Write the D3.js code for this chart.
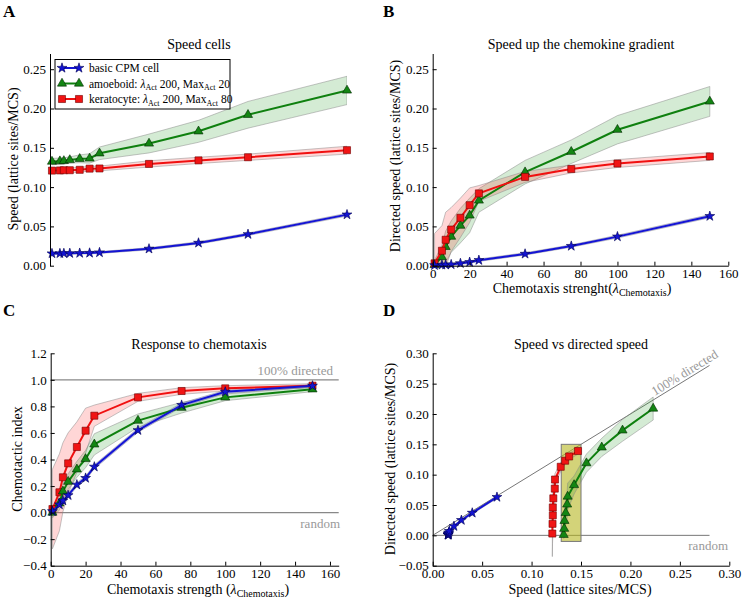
<!DOCTYPE html>
<html><head><meta charset="utf-8">
<script src="https://cdn.jsdelivr.net/npm/d3@7"></script>
<style>body{margin:0;background:#fff}svg{display:block}svg text{font-family:"Liberation Serif","DejaVu Serif",serif !important}</style>
</head><body>
<svg id="c" width="743" height="599"></svg>
<script>
// ---------- data ----------
const lambda = [1,5,7,10,15,20,25,50,75,100,150];

const speedBasic      = [0.0155,0.0156,0.0157,0.0158,0.0160,0.0162,0.0168,0.0215,0.029,0.040,0.065];
const speedBasicErr   = [0.0012,0.0012,0.0012,0.0012,0.0012,0.0012,0.0012,0.0014,0.0015,0.0016,0.0018];
const speedAmoeboid   = [0.1325,0.1330,0.1333,0.1345,0.1360,0.1365,0.1430,0.1555,0.1710,0.1920,0.2230];
const speedAmoeboidErr= [0.004,0.004,0.004,0.004,0.005,0.006,0.008,0.012,0.014,0.017,0.018];
const speedKerato     = [0.1210,0.1212,0.1215,0.1215,0.1220,0.1235,0.1237,0.1295,0.1340,0.1380,0.1470];
const speedKeratoErr  = [0.003,0.003,0.003,0.003,0.003,0.003,0.003,0.004,0.004,0.004,0.005];

const dirBasic        = [0.0005,0.0010,0.0012,0.0015,0.0030,0.0045,0.0070,0.0150,0.0250,0.0370,0.0630];
const dirBasicErr     = [0.0015,0.0015,0.0015,0.0015,0.0015,0.0015,0.0015,0.0015,0.0015,0.0018,0.002];
const dirAmoeboid     = [0.001,0.011,0.024,0.037,0.051,0.064,0.083,0.119,0.145,0.173,0.209];
const dirAmoeboidErr  = [0.006,0.015,0.020,0.020,0.022,0.022,0.015,0.015,0.015,0.018,0.019];
const dirKerato       = [0.003,0.019,0.033,0.046,0.061,0.077,0.092,0.113,0.123,0.130,0.139];
const dirKeratoErr    = [0.038,0.032,0.035,0.028,0.025,0.022,0.010,0.007,0.005,0.005,0.005];

const ciBasic         = [0.010,0.060,0.090,0.130,0.210,0.260,0.345,0.620,0.810,0.910,0.955];
const ciBasicErr      = [0.015,0.015,0.015,0.015,0.015,0.015,0.015,0.015,0.015,0.012,0.010];
const ciAmoeboid      = [0.000,0.070,0.160,0.233,0.326,0.404,0.514,0.693,0.790,0.868,0.929];
const ciAmoeboidErr   = [0.040,0.050,0.060,0.060,0.060,0.065,0.080,0.050,0.040,0.025,0.018];
const ciKerato        = [0.027,0.153,0.266,0.371,0.494,0.617,0.730,0.868,0.916,0.936,0.956];
const ciKeratoErr     = [0.300,0.290,0.260,0.230,0.190,0.170,0.080,0.030,0.025,0.020,0.015];

const ticksA_y = [0,0.05,0.10,0.15,0.20,0.25];
const ticksB_x = [0,20,40,60,80,100,120,140,160];
const ticksC_y = [-0.4,-0.2,0,0.2,0.4,0.6,0.8,1.0,1.2];
const ticksD   = [0,0.05,0.10,0.15,0.20,0.25,0.30];
const ticksD_y = [-0.05,0,0.05,0.10,0.15,0.20,0.25,0.30];
const highlightBox = {x0:0.13, x1:0.15, y0:-0.01, y1:0.15};

// ---------- styles ----------
const S = {
  basic: {line:'#1414d2', fill:'#1414d2', edge:'#000050', sym:d3.symbolStar, size:30, band:'#3030ff', bandOp:0.3},
  amoe:  {line:'#0f800f', fill:'#138513', edge:'#002800', sym:d3.symbolTriangle, size:36, band:'#2a9a2a', bandOp:0.2},
  kera:  {line:'#f01010', fill:'#f01414', edge:'#700000', sym:d3.symbolSquare, size:50, band:'#ff3030', bandOp:0.2}
};

const svg = d3.select('#c');
const FONT = 13;
const FF = '"Liberation Serif","DejaVu Serif",serif';

function rich(t, parts){
  parts.forEach(p=>{
    const ts = t.append('tspan').text(p.t);
    if(p.i) ts.attr('font-style','italic');
    if(p.sub){ ts.attr('font-size', p.subSize).attr('dy', p.subDy); }
    if(p.back){ ts.attr('dy', p.back); }
  });
}

function clipRect(id, x0,x1,y0,y1){
  svg.append('clipPath').attr('id',id).append('rect').attr('x',x0).attr('y',y1).attr('width',x1-x0).attr('height',y0-y1);
}

function yAxis(g, y, ticks, fmt){
  g.call(d3.axisLeft(y).tickValues(ticks).tickFormat(fmt).tickSizeInner(-4).tickSizeOuter(0).tickPadding(4));
  g.attr('font-family',FF).attr('font-size',FONT);
  g.selectAll('text').attr('fill','#000');
  g.select('.domain').attr('stroke','#000');
}
function xAxis(g, x, ticks, fmt){
  g.call(d3.axisBottom(x).tickValues(ticks).tickFormat(fmt).tickSizeInner(-4).tickSizeOuter(0).tickPadding(3));
  g.attr('font-family',FF).attr('font-size',FONT);
  g.selectAll('text').attr('fill','#000');
  g.select('.domain').attr('stroke','#000');
}

function drawSeries(g, xs, ys, errs, st, x, y, clip){
  const pts = xs.map((v,i)=>({x:v, y:ys[i], e:errs[i]}));
  const area = d3.area().x(d=>x(d.x)).y0(d=>y(d.y-d.e)).y1(d=>y(d.y+d.e));
  g.append('path').datum(pts).attr('d',area).attr('fill',st.band).attr('fill-opacity',st.bandOp)
    .attr('stroke','#888').attr('stroke-opacity',0.55).attr('stroke-width',0.9).attr('clip-path',clip);
  return pts;
}
function drawLine(g, pts, st, x, y){
  g.append('path').datum(pts).attr('d',d3.line().x(d=>x(d.x)).y(d=>y(d.y)))
    .attr('fill','none').attr('stroke',st.line).attr('stroke-width',2);
  g.selectAll(null).data(pts).enter().append('path')
    .attr('d', d3.symbol().type(st.sym).size(st.size))
    .attr('transform', d=>`translate(${x(d.x)},${y(d.y)})`)
    .attr('fill',st.fill).attr('stroke',st.edge).attr('stroke-width',0.6);
}

function panel(series, x, y, clip){
  const g = svg.append('g');
  const all = series.map(s=>drawSeries(g, s.xs, s.ys, s.es, s.st, x, y, clip));
  series.forEach((s,i)=>drawLine(g, all[i], s.st, x, y));
}

function title(txt, cx, by){
  svg.append('text').attr('x',cx).attr('y',by).attr('text-anchor','middle').attr('font-size',14).text(txt);
}
function ylabel(txt, cx, cy){
  svg.append('text').attr('transform',`translate(${cx},${cy}) rotate(-90)`).attr('text-anchor','middle')
    .attr('dominant-baseline','central').attr('font-size',14).text(txt);
}
function letter(t, x, y){
  svg.append('text').attr('x',x).attr('y',y).attr('font-size',17).attr('font-weight','bold').text(t);
}

// ---------- Panel A ----------
const xA = d3.scaleLinear([0,150],[50,347]);
const yA = d3.scaleLinear([0,0.27],[265.7,53.5]);
clipRect('clipA',50,347,265.7,53.5);
panel([
  {xs:lambda, ys:speedAmoeboid, es:speedAmoeboidErr, st:S.amoe},
  {xs:lambda, ys:speedKerato, es:speedKeratoErr, st:S.kera},
  {xs:lambda, ys:speedBasic, es:speedBasicErr, st:S.basic}
], xA, yA, 'url(#clipA)');
yAxis(svg.append('g').attr('transform','translate(50,0)'), yA, ticksA_y, d3.format('.2f'));
title('Speed cells', 199, 49);
ylabel('Speed (lattice sites/MCS)', 13, 159);
letter('A', 3, 17);

// legend
(function(){
  const lg = svg.append('g');
  lg.append('rect').attr('x',55).attr('y',59.5).attr('width',175).attr('height',49.5)
    .attr('fill','#fff').attr('stroke','#000').attr('stroke-width',1);
  const rows = [
    {st:S.basic, parts:[{t:'basic CPM cell'}]},
    {st:S.amoe, parts:[{t:'amoeboid: '},{t:'λ',i:true},{t:'Act',sub:true,subSize:8,subDy:2.5},{t:' 200, Max',back:-2.5},{t:'Act',sub:true,subSize:8,subDy:2.5},{t:' 20',back:-2.5}]},
    {st:S.kera, parts:[{t:'keratocyte: '},{t:'λ',i:true},{t:'Act',sub:true,subSize:8,subDy:2.5},{t:' 200, Max',back:-2.5},{t:'Act',sub:true,subSize:8,subDy:2.5},{t:' 80',back:-2.5}]}
  ];
  rows.forEach((r,i)=>{
    const cy = 68 + i*15.5;
    lg.append('line').attr('x1',62).attr('x2',79).attr('y1',cy).attr('y2',cy).attr('stroke',r.st.line).attr('stroke-width',2);
    [62,79].forEach(px=>lg.append('path').attr('d',d3.symbol().type(r.st.sym).size(r.st.size)).attr('transform',`translate(${px},${cy})`)
      .attr('fill',r.st.fill).attr('stroke',r.st.edge).attr('stroke-width',0.6));
    const t = lg.append('text').attr('x',89).attr('y',cy+4).attr('font-size',11.5);
    rich(t, r.parts);
  });
})();

// ---------- Panel B ----------
const xB = d3.scaleLinear([0,160],[432.7,728.3]);
const yB = d3.scaleLinear([0,0.27],[265.7,53.5]);
clipRect('clipB',432.7,728.3,265.7,53.5);
panel([
  {xs:lambda, ys:dirAmoeboid, es:dirAmoeboidErr, st:S.amoe},
  {xs:lambda, ys:dirKerato, es:dirKeratoErr, st:S.kera},
  {xs:lambda, ys:dirBasic, es:dirBasicErr, st:S.basic}
], xB, yB, 'url(#clipB)');
yAxis(svg.append('g').attr('transform','translate(432.7,0)'), yB, ticksA_y, d3.format('.2f'));
xAxis(svg.append('g').attr('transform','translate(0,265.7)'), xB, ticksB_x, d3.format('d'));
title('Speed up the chemokine gradient', 581, 49);
ylabel('Directed speed (lattice sites/MCS)', 395, 156);
(function(){
  const t = svg.append('text').attr('x',582).attr('y',293).attr('text-anchor','middle').attr('font-size',14);
  rich(t, [{t:'Chemotaxis strenght('},{t:'λ',i:true},{t:'Chemotaxis',sub:true,subSize:10,subDy:2.5},{t:')',back:-2.5}]);
})();
letter('B', 383, 17);

// ---------- Panel C ----------
const xC = d3.scaleLinear([0,165],[50.7,338.7]);
const yC = d3.scaleLinear([-0.4,1.2],[565.7,353.3]);
clipRect('clipC',50.7,338.7,565.7,353.3);
[1,0].forEach(v=>svg.append('line').attr('x1',xC(0)).attr('x2',xC(165)).attr('y1',yC(v)).attr('y2',yC(v))
  .attr('stroke','#888').attr('stroke-width',1.2));
svg.append('text').attr('x',333).attr('y',yC(1)-5).attr('text-anchor','end').attr('font-size',13).attr('fill','#999').text('100% directed');
svg.append('text').attr('x',340).attr('y',yC(0)+15).attr('text-anchor','end').attr('font-size',13).attr('fill','#999').text('random');
panel([
  {xs:lambda, ys:ciKerato, es:ciKeratoErr, st:S.kera},
  {xs:lambda, ys:ciAmoeboid, es:ciAmoeboidErr, st:S.amoe},
  {xs:lambda, ys:ciBasic, es:ciBasicErr, st:S.basic}
], xC, yC, 'url(#clipC)');
yAxis(svg.append('g').attr('transform','translate(50.7,0)'), yC, ticksC_y, d3.format('.1f'));
xAxis(svg.append('g').attr('transform','translate(0,565.7)'), xC, ticksB_x, d3.format('d'));
title('Response to chemotaxis', 199, 349);
ylabel('Chemotactic index', 17, 459);
(function(){
  const t = svg.append('text').attr('x',198).attr('y',594).attr('text-anchor','middle').attr('font-size',14);
  rich(t, [{t:'Chemotaxis strength ('},{t:'λ',i:true},{t:'Chemotaxis',sub:true,subSize:10,subDy:2.5},{t:')',back:-2.5}]);
})();
letter('C', 3, 316);

// ---------- Panel D ----------
const xD = d3.scaleLinear([0,0.30],[432.7,729.3]);
const yD = d3.scaleLinear([-0.05,0.30],[565.7,353.3]);
clipRect('clipD',432.7,729.3,565.7,353.3);
svg.append('line').attr('x1',xD(0)).attr('y1',yD(0)).attr('x2',xD(0.28)).attr('y2',yD(0.28)).attr('stroke','#777').attr('stroke-width',1);
svg.append('line').attr('x1',xD(0)).attr('y1',yD(0)).attr('x2',xD(0.28)).attr('y2',yD(0)).attr('stroke','#777').attr('stroke-width',1);
(function(){
  const ang = -Math.atan2(yD(0)-yD(0.1), xD(0.1)-xD(0))*180/Math.PI;
  svg.append('text').attr('transform',`translate(${xD(0.257)},${yD(0.262)}) rotate(${ang})`).attr('text-anchor','middle')
    .attr('font-size',13).attr('fill','#999').text('100% directed');
})();
svg.append('text').attr('x',728).attr('y',yD(0)+15).attr('text-anchor','end').attr('font-size',13).attr('fill','#999').text('random');
svg.append('rect').attr('x',xD(highlightBox.x0)).attr('y',yD(highlightBox.y1))
  .attr('width',xD(highlightBox.x1)-xD(highlightBox.x0)).attr('height',yD(highlightBox.y0)-yD(highlightBox.y1))
  .attr('fill','#b5b520').attr('fill-opacity',0.6).attr('stroke','#777').attr('stroke-width',1);
panel([
  {xs:speedAmoeboid, ys:dirAmoeboid, es:dirAmoeboidErr, st:S.amoe},
  {xs:speedKerato, ys:dirKerato, es:dirKeratoErr, st:S.kera},
  {xs:speedBasic, ys:dirBasic, es:dirBasicErr, st:S.basic}
], xD, yD, 'url(#clipD)');
yAxis(svg.append('g').attr('transform','translate(432.7,0)'), yD, ticksD_y, d3.format('.2f'));
xAxis(svg.append('g').attr('transform','translate(0,565.7)'), xD, ticksD, d3.format('.2f'));
title('Speed vs directed speed', 581, 349);
ylabel('Directed speed (lattice sites/MCS)', 390, 459);
svg.append('text').attr('x',580).attr('y',594).attr('text-anchor','middle').attr('font-size',14).text('Speed (lattice sites/MCS)');
letter('D', 383, 316);
</script>
</body></html>
